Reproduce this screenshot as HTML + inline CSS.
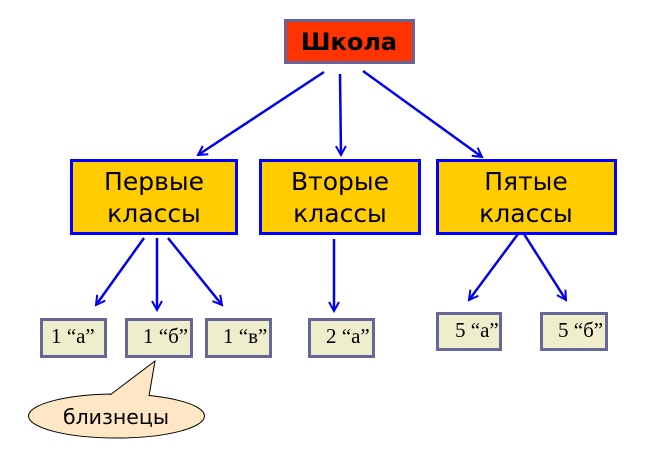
<!DOCTYPE html>
<html><head><meta charset="utf-8"><style>
html,body{margin:0;padding:0;background:#fff;}
svg{display:block;}
.big{font-family:"DejaVu Sans","Liberation Sans",sans-serif;font-size:25px;fill:#000;}
.sm{font-family:"Liberation Serif",serif;font-size:21px;fill:#000;}
</style></head><body>
<svg width="661" height="450" viewBox="0 0 661 450" xmlns="http://www.w3.org/2000/svg">
<defs>
<marker id="a" markerWidth="12" markerHeight="12" refX="10" refY="6" orient="auto" markerUnits="userSpaceOnUse">
<path d="M1,1 L10,6 L1,11" fill="none" stroke="#0000ee" stroke-width="2"/>
</marker>
</defs>
<g stroke="#0000ee" stroke-width="2.5" fill="none" marker-end="url(#a)">
<line x1="324" y1="72" x2="198" y2="155"/>
<line x1="340" y1="74" x2="341" y2="155"/>
<line x1="363" y1="71" x2="482" y2="157"/>
<line x1="144" y1="238" x2="96" y2="305"/>
<line x1="157" y1="238" x2="157" y2="310"/>
<line x1="168" y1="238" x2="222" y2="305"/>
<line x1="334" y1="239" x2="334" y2="311"/>
<line x1="518" y1="234" x2="469" y2="300"/>
<line x1="524" y1="234" x2="566" y2="300"/>
</g>
<rect x="285.5" y="20.5" width="128" height="42" fill="#ff3300" stroke="#666699" stroke-width="3"/>
<text x="349" y="50" text-anchor="middle" font-family="DejaVu Sans,sans-serif" font-weight="bold" font-size="24">Школа</text>
<g fill="#ffcc00" stroke="#0000ff" stroke-width="3">
<rect x="71.5" y="160.5" width="165" height="73"/>
<rect x="260.5" y="160.5" width="159" height="73"/>
<rect x="437.5" y="160.5" width="178" height="73"/>
</g>
<text class="big" x="154" y="190" text-anchor="middle">Первые</text>
<text class="big" x="154" y="222" text-anchor="middle">классы</text>
<text class="big" x="340" y="190" text-anchor="middle">Вторые</text>
<text class="big" x="340" y="222" text-anchor="middle">классы</text>
<text class="big" x="526" y="190" text-anchor="middle">Пятые</text>
<text class="big" x="526" y="222" text-anchor="middle">классы</text>
<g fill="#eeeecc" stroke="#666699" stroke-width="3">
<rect x="41.5" y="319.5" width="64" height="37"/>
<rect x="126.5" y="319.5" width="65" height="37"/>
<rect x="206.5" y="319.5" width="64" height="37"/>
<rect x="309.5" y="319.5" width="64" height="37"/>
<rect x="437.5" y="313.5" width="63" height="36"/>
<rect x="541.5" y="313.5" width="65" height="36"/>
</g>
<text class="sm" x="51" y="343">1 “а”</text>
<text class="sm" x="143" y="343">1 “б”</text>
<text class="sm" x="223" y="343">1 “в”</text>
<text class="sm" x="326" y="343">2 “а”</text>
<text class="sm" x="455" y="337">5 “а”</text>
<text class="sm" x="558" y="337">5 “б”</text>
<ellipse cx="116.5" cy="416" rx="88" ry="22" fill="#ffe6c4" stroke="#000" stroke-width="1"/>
<path d="M110,395 L155,361 L149,396" fill="#ffe6c4" stroke="#000" stroke-width="1"/>
<path d="M111,396 L148,396" stroke="#ffe6c4" stroke-width="2"/>
<text x="116" y="424" text-anchor="middle" font-family="DejaVu Sans,sans-serif" font-size="20.5">близнецы</text>
</svg>
</body></html>
